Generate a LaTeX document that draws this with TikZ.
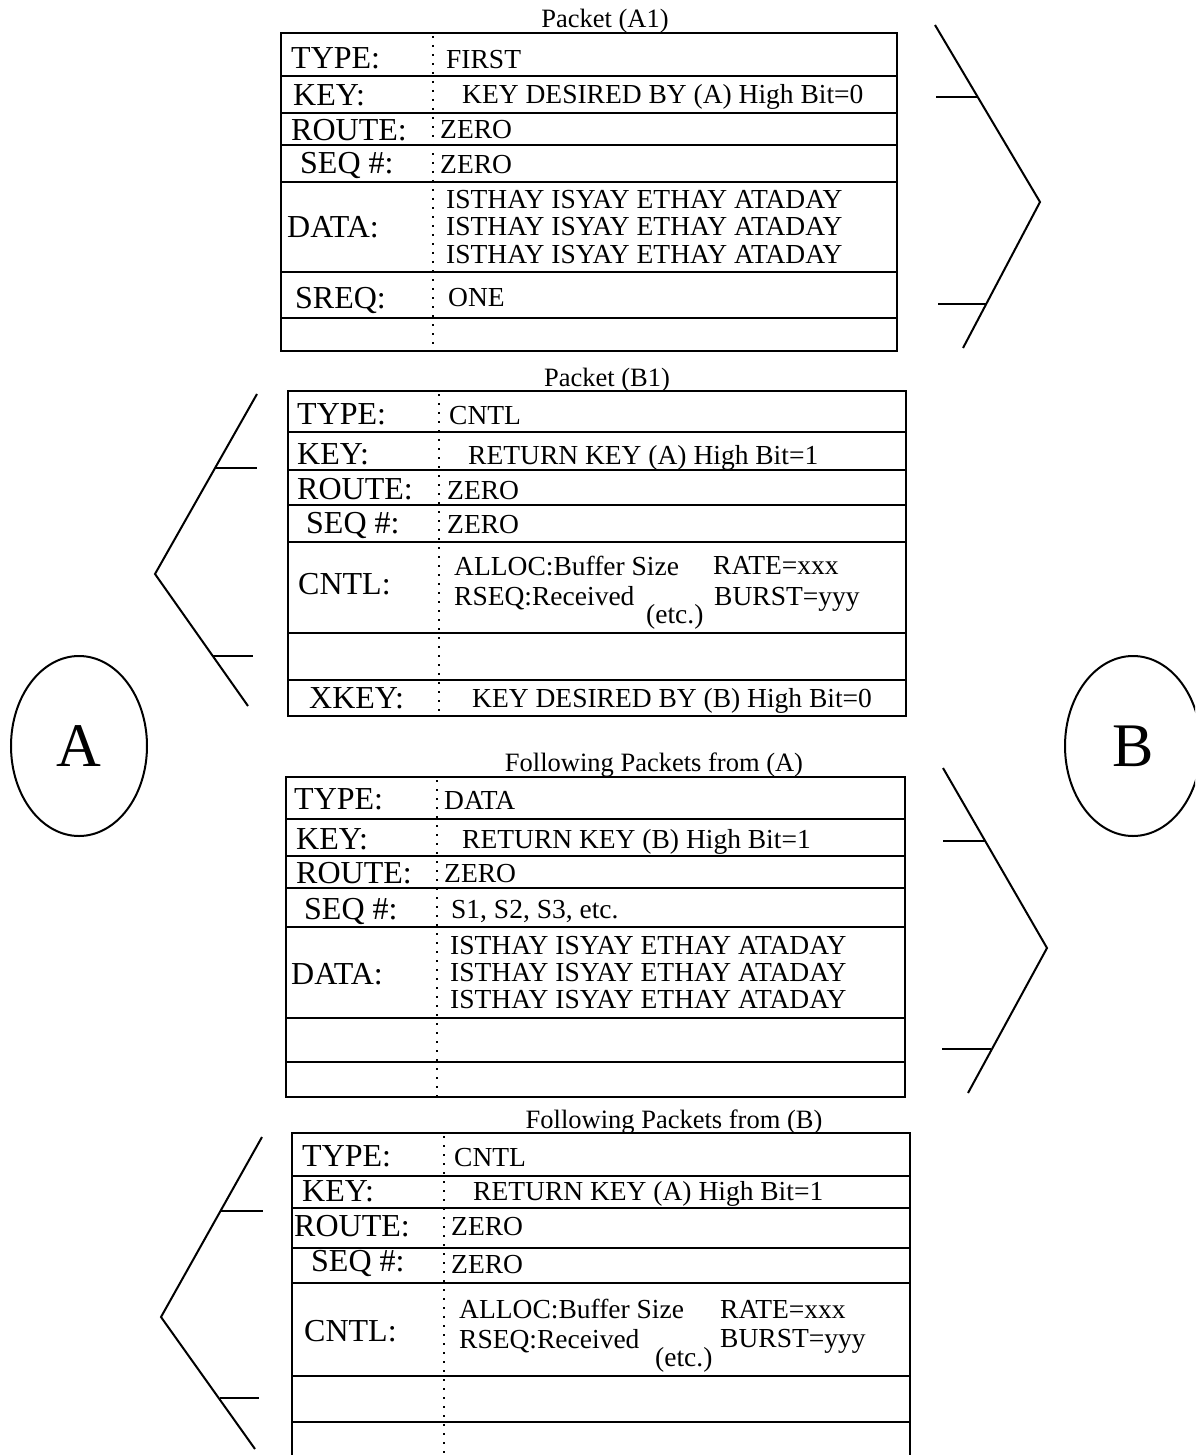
\documentclass[tikz,border=0pt]{standalone}
\usepackage{fontspec}
\setmainfont{Liberation Serif}
\usetikzlibrary{shapes.geometric}
\begin{document}
\begin{tikzpicture}[x=1pt,y=-1pt,
  box/.style={line width=2pt},
  sep/.style={line width=2pt},
  dots/.style={line width=2.4pt, dash pattern=on 2pt off 7pt},
  chev/.style={line width=2pt, line join=miter},
  tickmark/.style={line width=2.8pt},
  lbl/.style={anchor=base west, inner sep=0pt, font=\fontsize{32}{32}\selectfont},
  txt/.style={anchor=base west, inner sep=0pt, font=\fontsize{27.5}{27.5}\selectfont},
  ttl/.style={anchor=base, inner sep=0pt, font=\fontsize{26.5}{26.5}\selectfont},
  ent/.style={draw, ellipse, line width=2pt, inner sep=0pt, minimum width=136pt, minimum height=180pt, font=\fontsize{62}{62}\selectfont}
]
\useasboundingbox (0,0) rectangle (1195,1455);
\clip (0,0) rectangle (1195,1455);

% ---------- end points ----------
\node[ent] (A) at (79,746) {A};
\node[ent] (B) at (1133,746) {B};

% ---------- Packet (A1) ----------
\node[ttl] (a1t) at (605,28) {Packet (A1)};
\draw[box] (281,33) rectangle (897,351);
\foreach \y in {76,113,145,182,272,318} \draw[sep] (281,\y) -- (897,\y);
\draw[dots] (433,36) -- (433,351);
\node[lbl] (a1l1) at (291,69) {TYPE:};
\node[txt] (a1c1) at (446,69) {FIRST};
\node[lbl] (a1l2) at (293,106) {KEY:};
\node[txt] (a1c2) at (462,104) {KEY DESIRED BY (A) High Bit=0};
\node[lbl] (a1l3) at (291,141) {ROUTE:};
\node[txt] (a1c3) at (440,139) {ZERO};
\node[lbl] (a1l4) at (300,174) {SEQ \#:};
\node[txt] (a1c4) at (440,174) {ZERO};
\node[lbl] (a1l5) at (287,238) {DATA:};
\node[txt] (a1c5a) at (446,209) {ISTHAY ISYAY ETHAY ATADAY};
\node[txt] (a1c5b) at (446,236) {ISTHAY ISYAY ETHAY ATADAY};
\node[txt] (a1c5c) at (446,263) {ISTHAY ISYAY ETHAY ATADAY};
\node[lbl] (a1l6) at (295,308) {SREQ:};
\node[txt] (a1c6) at (448,306) {ONE};
% chevron to the right
\coordinate (a1p) at (935,25);
\coordinate (a1q) at (1040,202);
\coordinate (a1r) at (963,348);
\draw[chev] (a1p) -- (a1q) -- (a1r);
\draw[tickmark] (936,97) -- (978,97);
\draw[tickmark] (938,304) -- (987,304);

% ---------- Packet (B1) ----------
\node[ttl] (b1t) at (607,386) {Packet (B1)};
\draw[box] (288,391) rectangle (906,716);
\foreach \y in {432,470,505,542,633,680} \draw[sep] (288,\y) -- (906,\y);
\draw[dots] (439,394) -- (439,716);
\node[lbl] (b1l1) at (297,424) {TYPE:};
\node[txt] (b1c1) at (449,424) {CNTL};
\node[lbl] (b1l2) at (297,464) {KEY:};
\node[txt] (b1c2) at (468,464) {RETURN KEY (A) High Bit=1};
\node[lbl] (b1l3) at (297,499) {ROUTE:};
\node[txt] (b1c3) at (447,499) {ZERO};
\node[lbl] (b1l4) at (306,533) {SEQ \#:};
\node[txt] (b1c4) at (447,533) {ZERO};
\node[lbl] (b1l5) at (298,594) {CNTL:};
\node[txt] (b1c5a) at (454,575) {ALLOC:Buffer Size};
\node[txt] (b1c5b) at (713,574) {RATE=xxx};
\node[txt] (b1c5c) at (454,605) {RSEQ:Received};
\node[txt] (b1c5d) at (714,605) {BURST=yyy};
\node[txt] (b1c5e) at (646,623) {(etc.)};
\node[lbl] (b1l7) at (309,708) {XKEY:};
\node[txt] (b1c7) at (472,707) {KEY DESIRED BY (B) High Bit=0};
% chevron to the left
\coordinate (b1p) at (257,394);
\coordinate (b1q) at (155,574);
\coordinate (b1r) at (248,706);
\draw[chev] (b1p) -- (b1q) -- (b1r);
\draw[tickmark] (216,468) -- (257,468);
\draw[tickmark] (213,656) -- (253,656);

% ---------- Following Packets from (A) ----------
\node[ttl] (fat) at (654,771) {Following Packets from (A)};
\draw[box] (286,777) rectangle (905,1097);
\foreach \y in {819,856,888,927,1018,1062} \draw[sep] (286,\y) -- (905,\y);
\draw[dots] (437,780) -- (437,1097);
\node[lbl] (fal1) at (294,809) {TYPE:};
\node[txt] (fac1) at (444,809) {DATA};
\node[lbl] (fal2) at (296,849) {KEY:};
\node[txt] (fac2) at (462,848) {RETURN KEY (B) High Bit=1};
\node[lbl] (fal3) at (296,883) {ROUTE:};
\node[txt] (fac3) at (444,882) {ZERO};
\node[lbl] (fal4) at (304,919) {SEQ \#:};
\node[txt] (fac4) at (451,918) {S1, S2, S3, etc.};
\node[lbl] (fal5) at (291,984) {DATA:};
\node[txt] (fac5a) at (450,954) {ISTHAY ISYAY ETHAY ATADAY};
\node[txt] (fac5b) at (450,981) {ISTHAY ISYAY ETHAY ATADAY};
\node[txt] (fac5c) at (450,1008) {ISTHAY ISYAY ETHAY ATADAY};
% chevron to the right
\coordinate (fap) at (943,768);
\coordinate (faq) at (1047,948);
\coordinate (far) at (968,1093);
\draw[chev] (fap) -- (faq) -- (far);
\draw[tickmark] (943,841) -- (985,841);
\draw[tickmark] (942,1049) -- (991,1049);

% ---------- Following Packets from (B) ----------
\node[ttl] (fbt) at (674,1128) {Following Packets from (B)};
\draw[box] (292,1470) -- (292,1133) -- (910,1133) -- (910,1470);
\foreach \y in {1176,1208,1248,1283,1376,1422} \draw[sep] (292,\y) -- (910,\y);
\draw[dots] (444,1136) -- (444,1460);
\node[lbl] (fbl1) at (302,1166) {TYPE:};
\node[txt] (fbc1) at (454,1166) {CNTL};
\node[lbl] (fbl2) at (302,1201) {KEY:};
\node[txt] (fbc2) at (473,1200) {RETURN KEY (A) High Bit=1};
\node[lbl] (fbl3) at (294,1236) {ROUTE:};
\node[txt] (fbc3) at (451,1235) {ZERO};
\node[lbl] (fbl4) at (311,1271) {SEQ \#:};
\node[txt] (fbc4) at (451,1273) {ZERO};
\node[lbl] (fbl5) at (304,1341) {CNTL:};
\node[txt] (fbc5a) at (459,1318) {ALLOC:Buffer Size};
\node[txt] (fbc5b) at (720,1318) {RATE=xxx};
\node[txt] (fbc5c) at (459,1348) {RSEQ:Received};
\node[txt] (fbc5d) at (720,1347) {BURST=yyy};
\node[txt] (fbc5e) at (655,1366) {(etc.)};
% chevron to the left
\coordinate (fbp) at (262,1137);
\coordinate (fbq) at (161,1317);
\coordinate (fbr) at (255,1449);
\draw[chev] (fbp) -- (fbq) -- (fbr);
\draw[tickmark] (221,1211) -- (263,1211);
\draw[tickmark] (220,1398) -- (259,1398);
\end{tikzpicture}
\end{document}
